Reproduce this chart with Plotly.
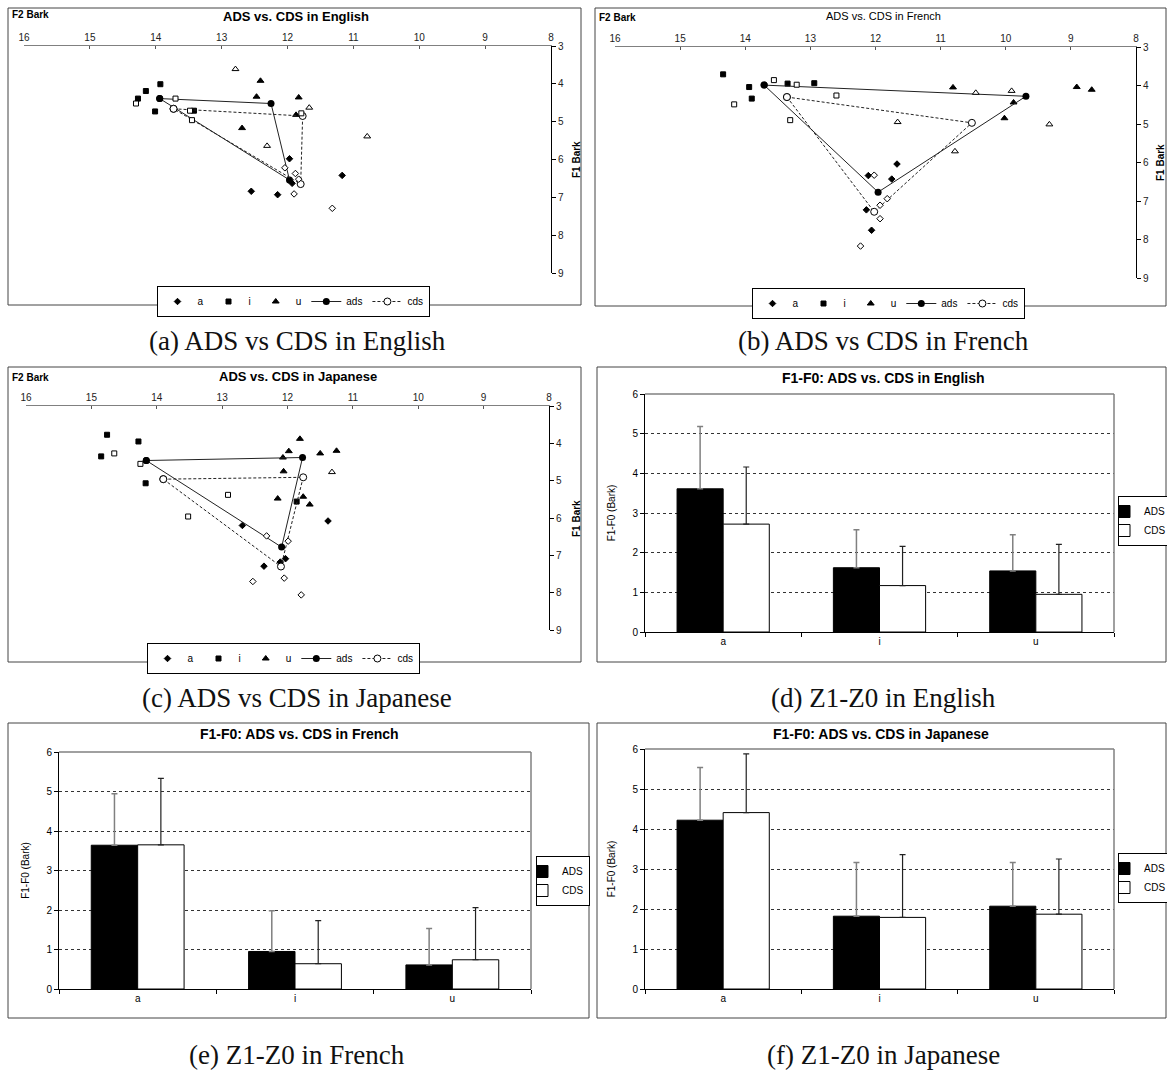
import plotly.graph_objects as go

W, H = 1167, 1073


def px(x):
    return x / W


def py(y):
    return 1 - y / H


# ------------------------------------------------------------------ data
# Vowel space (F2 Bark, F1 Bark) -- English
en_a_ads_f2 = [11.97, 11.17, 11.93, 12.55, 12.15]
en_a_ads_f1 = [5.98, 6.42, 6.63, 6.84, 6.93]
en_a_cds_f2 = [12.04, 11.88, 11.83, 11.90, 11.32]
en_a_cds_f1 = [6.22, 6.37, 6.52, 6.91, 7.29]
en_i_ads_f2 = [13.93, 14.15, 14.27, 14.01, 13.42]
en_i_ads_f1 = [4.01, 4.19, 4.39, 4.73, 4.71]
en_i_cds_f2 = [14.30, 13.70, 13.48, 13.45, 11.79]
en_i_cds_f1 = [4.52, 4.39, 4.71, 4.96, 4.78]
en_u_ads_f2 = [12.41, 12.47, 11.83, 11.87, 12.69]
en_u_ads_f1 = [3.92, 4.34, 4.36, 4.82, 5.17]
en_u_cds_f2 = [12.79, 11.67, 10.79, 12.31]
en_u_cds_f1 = [3.61, 4.63, 5.39, 5.64]
en_mean_ads_f2 = [13.94, 12.25, 11.97]  # i, u, a
en_mean_ads_f1 = [4.39, 4.52, 6.54]
en_mean_cds_f2 = [13.73, 11.77, 11.80]
en_mean_cds_f1 = [4.66, 4.85, 6.65]

# French
fr_a_ads_f2 = [11.67, 12.11, 11.75, 12.14, 12.06]
fr_a_ads_f1 = [6.04, 6.34, 6.43, 7.23, 7.76]
fr_a_cds_f2 = [12.02, 11.82, 11.93, 11.93, 12.23]
fr_a_cds_f1 = [6.33, 6.94, 7.11, 7.46, 8.17]
fr_i_ads_f2 = [14.34, 13.94, 13.90, 13.35, 12.94]
fr_i_ads_f1 = [3.71, 4.04, 4.34, 3.95, 3.94]
fr_i_cds_f2 = [14.17, 13.56, 13.21, 12.60, 13.31]
fr_i_cds_f1 = [4.49, 3.86, 3.98, 4.26, 4.90]
fr_u_ads_f2 = [10.81, 8.91, 8.68, 9.88, 10.02]
fr_u_ads_f1 = [4.05, 4.04, 4.11, 4.44, 4.85]
fr_u_cds_f2 = [10.46, 9.91, 11.66, 9.33, 10.78]
fr_u_cds_f1 = [4.19, 4.14, 4.95, 5.01, 5.71]
fr_mean_ads_f2 = [13.71, 9.69, 11.96]
fr_mean_ads_f1 = [3.99, 4.28, 6.77]
fr_mean_cds_f2 = [13.36, 10.52, 12.02]
fr_mean_cds_f1 = [4.30, 4.97, 7.28]

# Japanese
ja_a_ads_f2 = [11.38, 12.69, 12.03, 12.11, 12.36]
ja_a_ads_f1 = [6.08, 6.20, 7.09, 7.18, 7.29]
ja_a_cds_f2 = [12.32, 11.99, 12.05, 12.53, 11.79]
ja_a_cds_f1 = [6.48, 6.62, 7.61, 7.70, 8.06]
ja_i_ads_f2 = [14.76, 14.28, 14.85, 14.17, 11.86]
ja_i_ads_f1 = [3.77, 3.95, 4.35, 5.07, 5.56]
ja_i_cds_f2 = [14.65, 14.25, 12.91, 13.52]
ja_i_cds_f1 = [4.27, 4.55, 5.38, 5.96]
ja_u_ads_f2 = [11.81, 11.98, 11.50, 11.25, 12.07, 12.06, 12.15, 11.76, 11.66]
ja_u_ads_f1 = [3.88, 4.21, 4.27, 4.20, 4.38, 4.75, 5.48, 5.43, 5.64]
ja_u_cds_f2 = [11.32]
ja_u_cds_f1 = [4.77]
ja_mean_ads_f2 = [14.16, 11.77, 12.09]
ja_mean_ads_f1 = [4.46, 4.38, 6.78]
ja_mean_cds_f2 = [13.90, 11.76, 12.10]
ja_mean_cds_f1 = [4.96, 4.91, 7.30]

# F1-F0 (Bark) bar charts
vowels = ["a", "i", "u"]
en_ads = [3.61, 1.62, 1.54]
en_ads_sd = [1.57, 0.96, 0.91]
en_cds = [2.72, 1.17, 0.95]
en_cds_sd = [1.44, 0.99, 1.26]
fr_ads = [3.64, 0.95, 0.61]
fr_ads_sd = [1.30, 1.03, 0.92]
fr_cds = [3.65, 0.64, 0.74]
fr_cds_sd = [1.68, 1.09, 1.32]
ja_ads = [4.22, 1.82, 2.07]
ja_ads_sd = [1.32, 1.34, 1.09]
ja_cds = [4.41, 1.79, 1.87]
ja_cds_sd = [1.47, 1.57, 1.38]

FONT = "Liberation Sans, Arial, sans-serif"
SERIF = "Liberation Serif, Times New Roman, serif"

fig = go.Figure()
layout = dict(
    width=W, height=H, autosize=False,
    margin=dict(l=0, r=0, t=0, b=0, autoexpand=False),
    paper_bgcolor="white", plot_bgcolor="white",
    font=dict(family=FONT, size=10, color="black"),
    barmode="group", bargap=0.41, bargroupgap=0,
    showlegend=True,
)
shapes = []
annotations = []


def closed(v):
    return list(v) + [v[0]]


def scatter_panel(k, d, xdom, ydom, title, bold_title, title_xy, f2_xy, f1_xy, leg_xy):
    xa = "x" if k == 1 else f"x{k}"
    ya = "y" if k == 1 else f"y{k}"
    lg = "legend" if k == 1 else f"legend{k}"
    filled = dict(color="black", line=dict(color="black", width=1))
    openm = dict(color="white", line=dict(color="black", width=1))
    sym = {"a": ("diamond", 5), "i": ("square", 5), "u": ("triangle-up", 6)}
    for v in ["a", "i", "u"]:
        s, sz = sym[v]
        fig.add_trace(go.Scatter(
            x=d[f"{v}_ads_f2"], y=d[f"{v}_ads_f1"], mode="markers", name=v,
            marker=dict(symbol=s, size=sz, **filled), xaxis=xa, yaxis=ya,
            legend=lg, cliponaxis=False))
    fig.add_trace(go.Scatter(
        x=closed(d["mean_ads_f2"]), y=closed(d["mean_ads_f1"]),
        mode="lines+markers", name="ads",
        line=dict(color="#222", width=1),
        marker=dict(symbol="circle", size=7, color="black"),
        xaxis=xa, yaxis=ya, legend=lg))
    fig.add_trace(go.Scatter(
        x=closed(d["mean_cds_f2"]), y=closed(d["mean_cds_f1"]),
        mode="lines+markers", name="cds",
        line=dict(color="#222", width=1, dash="3px,2px"),
        marker=dict(symbol="circle", size=7, color="white",
                    line=dict(color="black", width=1)),
        xaxis=xa, yaxis=ya, legend=lg))
    for v in ["a", "i", "u"]:
        s, sz = sym[v]
        fig.add_trace(go.Scatter(
            x=d[f"{v}_cds_f2"], y=d[f"{v}_cds_f1"], mode="markers",
            name=v + " cds", showlegend=False,
            marker=dict(symbol=s, size=sz, **openm), xaxis=xa, yaxis=ya,
            legend=lg))
    xk = "xaxis" if k == 1 else f"xaxis{k}"
    yk = "yaxis" if k == 1 else f"yaxis{k}"
    layout[xk] = dict(
        domain=[px(xdom[0]), px(xdom[1])], anchor=ya, side="top",
        range=[16, 8], dtick=1, tick0=8, showline=True, linecolor="#808080",
        linewidth=1.3, ticks="inside", ticklen=3, tickcolor="#555",
        showgrid=False, zeroline=False, tickfont=dict(size=10, color="#222"))
    layout[yk] = dict(
        domain=[py(ydom[1]), py(ydom[0])], anchor=xa, side="right",
        range=[9, 3], dtick=1, tick0=3, showline=True, linecolor="black",
        linewidth=1, ticks="outside", ticklen=4, tickcolor="black",
        showgrid=False, zeroline=False, tickfont=dict(size=10, color="#222"))
    layout[lg] = dict(
        orientation="h", x=px(leg_xy[0]), y=py(leg_xy[1]),
        xanchor="center", yanchor="top", bgcolor="white",
        bordercolor="black", borderwidth=1, font=dict(size=10),
        itemwidth=30, tracegroupgap=0)
    t = f"<b>{title}</b>" if bold_title else title
    annotations.append(dict(text=t, x=px(title_xy[0]), y=py(title_xy[1]),
                            xref="paper", yref="paper", showarrow=False,
                            font=dict(size=13 if bold_title else 11),
                            xanchor="center", yanchor="middle"))
    annotations.append(dict(text="<b>F2 Bark</b>", x=px(f2_xy[0]), y=py(f2_xy[1]),
                            xref="paper", yref="paper", showarrow=False,
                            font=dict(size=10), xanchor="left", yanchor="middle"))
    annotations.append(dict(text="<b>F1 Bark</b>", x=px(f1_xy[0]), y=py(f1_xy[1]),
                            xref="paper", yref="paper", showarrow=False,
                            textangle=-90, font=dict(size=10),
                            xanchor="center", yanchor="middle"))


def bar_panel(k, ads, ads_sd, cds, cds_sd, xdom, ydom, title, title_xy, leg_xy):
    xa, ya, lg = f"x{k}", f"y{k}", f"legend{k}"
    fig.add_trace(go.Bar(
        x=vowels, y=ads, name="ADS", xaxis=xa, yaxis=ya, legend=lg,
        marker=dict(color="black", line=dict(color="black", width=1)),
        error_y=dict(type="data", symmetric=False, array=ads_sd,
                     arrayminus=[0] * len(ads_sd), color="#808080",
                     thickness=1.5, width=3)))
    fig.add_trace(go.Bar(
        x=vowels, y=cds, name="CDS", xaxis=xa, yaxis=ya, legend=lg,
        marker=dict(color="white", line=dict(color="black", width=1)),
        error_y=dict(type="data", symmetric=False, array=cds_sd,
                     arrayminus=[0] * len(cds_sd), color="#222",
                     thickness=1.2, width=3)))
    layout[f"xaxis{k}"] = dict(
        domain=[px(xdom[0]), px(xdom[1])], anchor=ya, type="category",
        tickson="boundaries", ticks="outside", ticklen=4, tickcolor="black",
        showline=True, linecolor="black", linewidth=1, showgrid=False,
        tickfont=dict(size=10))
    layout[f"yaxis{k}"] = dict(
        domain=[py(ydom[1]), py(ydom[0])], anchor=xa, range=[0, 6], dtick=1,
        ticks="outside", ticklen=4, tickcolor="black", showline=True,
        linecolor="black", linewidth=1, showgrid=True, gridcolor="#333",
        griddash="3px,3px", gridwidth=1, zeroline=False,
        tickfont=dict(size=10),
        title=dict(text="F1-F0 (Bark)", font=dict(size=10), standoff=14))
    layout[lg] = dict(
        orientation="v", x=px(leg_xy[0]), y=py(leg_xy[1]),
        xanchor="left", yanchor="middle", bgcolor="white",
        bordercolor="black", borderwidth=1, font=dict(size=10),
        itemwidth=30, tracegroupgap=0, indentation=-15)
    for x0, y0, x1, y1 in [(0, 1, 1, 1), (1, 0, 1, 1)]:
        shapes.append(dict(type="line", xref=f"{xa} domain", yref=f"{ya} domain",
                           x0=x0, y0=y0, x1=x1, y1=y1,
                           line=dict(color="#808080", width=1.5), layer="above"))
    annotations.append(dict(text=f"<b>{title}</b>", x=px(title_xy[0]),
                            y=py(title_xy[1]), xref="paper", yref="paper",
                            showarrow=False, font=dict(size=14),
                            xanchor="center", yanchor="middle"))


def series(prefix):
    g = globals()
    return {k[len(prefix):]: v for k, v in g.items() if k.startswith(prefix)}


scatter_panel(1, series("en_"), (24, 551), (46, 273), "ADS vs. CDS in English",
              True, (296, 17), (10, 15), (576, 160), (293, 286))
scatter_panel(2, series("fr_"), (615, 1136), (47, 278), "ADS vs. CDS in French",
              False, (883, 16), (597, 18), (1160, 163), (888, 288))
scatter_panel(3, series("ja_"), (26, 549), (406, 630), "ADS vs. CDS in Japanese",
              True, (298, 376), (10, 378), (576, 519), (283, 643))

bar_panel(4, en_ads, en_ads_sd, en_cds, en_cds_sd, (645, 1114), (394, 632),
          "F1-F0: ADS vs. CDS in English", (883, 378), (1118, 521))
bar_panel(5, fr_ads, fr_ads_sd, fr_cds, fr_cds_sd, (59, 531), (752, 989),
          "F1-F0: ADS vs. CDS in French", (299, 734), (536, 881))
bar_panel(6, ja_ads, ja_ads_sd, ja_cds, ja_cds_sd, (645, 1114), (749, 989),
          "F1-F0: ADS vs. CDS in Japanese", (881, 734), (1118, 878))

# panel frames
for x0, y0, x1, y1 in [(8, 8, 581, 305), (595, 8, 1166, 306),
                       (8, 367, 581, 662), (597, 367, 1166, 662),
                       (8, 723, 589, 1018), (597, 723, 1166, 1018)]:
    shapes.append(dict(type="rect", xref="paper", yref="paper",
                       x0=px(x0), x1=px(x1), y0=py(y1), y1=py(y0),
                       line=dict(color="#444", width=1), layer="below"))

# captions
captions = [("(a) ADS vs CDS in English", 297, 341),
            ("(b) ADS vs CDS in French", 883, 341),
            ("(c) ADS vs CDS in Japanese", 297, 698),
            ("(d) Z1-Z0 in English", 883, 698),
            ("(e) Z1-Z0 in French", 297, 1055),
            ("(f) Z1-Z0 in Japanese", 883, 1055)]
for txt, cx, cy in captions:
    annotations.append(dict(text=txt, x=px(cx), y=py(cy), xref="paper",
                            yref="paper", showarrow=False,
                            font=dict(family=SERIF, size=27, color="#111"),
                            xanchor="center", yanchor="middle"))

layout["shapes"] = shapes
layout["annotations"] = annotations
fig.update_layout(**layout)
fig.write_html("out.html",
               config={"displayModeBar": False},
               post_script="document.body.style.margin='0px';"
                           "document.body.style.overflow='hidden';")
